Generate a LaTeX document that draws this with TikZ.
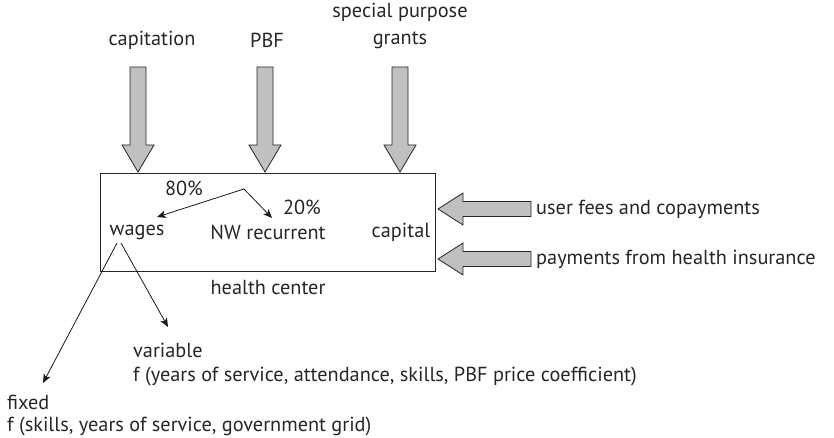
\documentclass[tikz,border=0pt]{standalone}
\usepackage{fontspec}
\setmainfont{PT Sans}
\usetikzlibrary{arrows.meta}
\definecolor{arrowgray}{RGB}{192,192,192}
\tikzset{
  lbl/.style={inner sep=0pt, font=\fontsize{20.3}{27}\selectfont, text=black!85},
  bigarrow/.style={fill=arrowgray, draw=black!85, line width=0.8pt, line join=miter},
  thin/.style={draw=black!90, line width=0.8pt, -{Stealth[length=9pt,width=7.5pt,inset=2.5pt]}},
}
\begin{document}
\begin{tikzpicture}[x=1pt,y=-1pt]
\useasboundingbox (0,0) rectangle (834,438);
% box
\node[draw=black!85, line width=0.8pt, minimum width=335pt, minimum height=98pt, inner sep=0pt] (box) at (267.5,222) {};
% top labels
\node[lbl] (capl) at (152,40) {capitation};
\node[lbl] (pbfl) at (267,40) {PBF};
\node[lbl, align=center] (spgl) at (400,26) {special purpose\\grants};
% down arrows
\foreach \cx/\nm in {138/a1, 265/a2, 400/a3}{
  \coordinate (\nm) at (\cx,67);
  \draw[bigarrow] (\cx-8,67) -- (\cx+8,67) -- (\cx+8,145) -- (\cx+16,145) -- (\cx,172) -- (\cx-16,145) -- (\cx-8,145) -- cycle;
}
% left arrows
\foreach \cy/\nm in {209/b1, 259/b2}{
  \coordinate (\nm) at (531,\cy);
  \draw[bigarrow] (531,\cy-7.5) -- (531,\cy+7.5) -- (463,\cy+7.5) -- (463,\cy+16) -- (438,\cy) -- (463,\cy-16) -- (463,\cy-7.5) -- cycle;
}
\node[lbl, anchor=west] (ufl) at (536,209) {user fees and copayments};
\node[lbl, anchor=west] (phl) at (536,259) {payments from health insurance};
% inside box
\node[lbl] (p80) at (184,188) {80\%};
\node[lbl] (p20) at (302,207) {20\%};
\node[lbl] (wages) at (137,232) {wages};
\node[lbl] (nwr) at (268,232) {NW recurrent};
\node[lbl] (capital) at (401,232) {capital};
\node[lbl] (hc) at (268,288) {health center};
\coordinate (split) at (244,189);
\coordinate (wtip) at (157,217);
\coordinate (ntip) at (272,218);
\draw[thin] (split) -- (wtip);
\draw[thin] (split) -- (ntip);
% wages branches
\coordinate (wf) at (117,243);
\coordinate (wv) at (121,243);
\coordinate (ftip) at (43,383);
\coordinate (vtip) at (168,327);
\draw[thin] (wf) -- (ftip);
\draw[thin] (wv) -- (vtip);
\node[lbl, anchor=west] (varl) at (133,350) {variable};
\node[lbl, anchor=west] (varf) at (133,377) {f (years of service, attendance, skills, PBF price coefficient)};
\node[lbl, anchor=west] (fixl) at (7,402) {fixed};
\node[lbl, anchor=west] (fixf) at (7,427) {f (skills, years of service, government grid)};
\end{tikzpicture}
\end{document}
